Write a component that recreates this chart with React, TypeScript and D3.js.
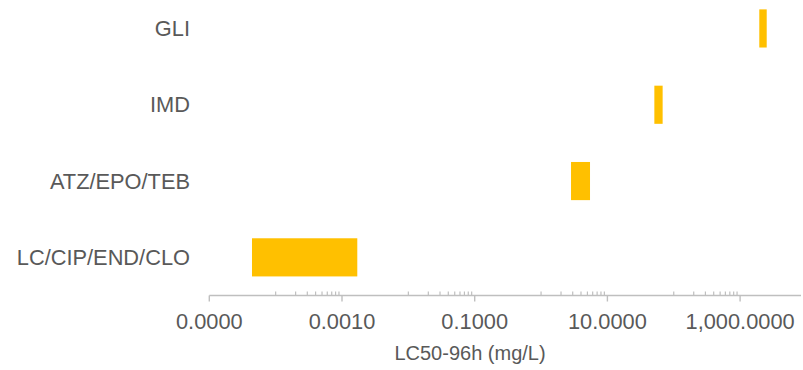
import React from "react";
import * as d3 from "d3";

const categories = ["GLI", "IMD", "ATZ/EPO/TEB", "LC/CIP/END/CLO"];
const lowValues = [1946, 51, 2.83, 0.000044];
const highValues = [2518, 68, 5.47, 0.0017];
const majorTicks = [0.00001, 0.001, 0.1, 10, 1000];
const axisTitle = "LC50-96h (mg/L)";

const W = 803;
const H = 370;
const FONT = "'Liberation Sans', Arial, sans-serif";
const TEXT = "#595959";
const AXIS = "#BFBFBF";
const BAR = "#FFC000";

export default function App() {
  const x = d3.scaleLog().domain([1e-5, 1e5]).range([209.3, 209.3 + 10 * 66.35]);
  const y = d3
    .scaleBand<string>()
    .domain(categories)
    .range([-9.7, 295.5])
    .paddingInner(0.5)
    .paddingOuter(0.25);
  const axisY = 295.5;
  const axisEnd = 801;
  const fmt = d3.format(",.4f");

  const minorTicks: number[] = [];
  majorTicks.forEach((m) => {
    for (let k = 1; k <= 9; k++) {
      const v = m * 10 * k;
      if (x(v) < axisEnd) minorTicks.push(v);
    }
  });

  return (
    <svg
      width={W}
      height={H}
      style={{ position: "absolute", left: 0, top: 0, background: "#fff" }}
      fontFamily={FONT}
    >
      {categories.map((c, i) => (
        <rect
          key={c}
          x={x(lowValues[i])}
          y={y(c)!}
          width={x(highValues[i]) - x(lowValues[i])}
          height={y.bandwidth()}
          fill={BAR}
        />
      ))}
      {categories.map((c) => (
        <text
          key={"l" + c}
          x={190}
          y={y(c)! + y.bandwidth() / 2 + 7.7}
          textAnchor="end"
          fontSize={21.8}
          fill={TEXT}
        >
          {c}
        </text>
      ))}
      <line x1={x(1e-5)} x2={axisEnd} y1={axisY} y2={axisY} stroke={AXIS} strokeWidth={1.4} />
      {majorTicks.map((t) => (
        <line key={"M" + t} x1={x(t)} x2={x(t)} y1={axisY} y2={axisY + 6} stroke={AXIS} strokeWidth={1.4} />
      ))}
      {minorTicks.map((t) => (
        <line key={"m" + t} x1={x(t)} x2={x(t)} y1={axisY - 4} y2={axisY} stroke={AXIS} strokeWidth={1.2} />
      ))}
      {majorTicks.map((t) => (
        <text
          key={"t" + t}
          x={x(t)}
          y={329}
          textAnchor="middle"
          fontSize={21.8}
          fill={TEXT}
        >
          {fmt(t)}
        </text>
      ))}
      <text x={470} y={360} textAnchor="middle" fontSize={20} fill={TEXT}>
        {axisTitle}
      </text>
    </svg>
  );
}
